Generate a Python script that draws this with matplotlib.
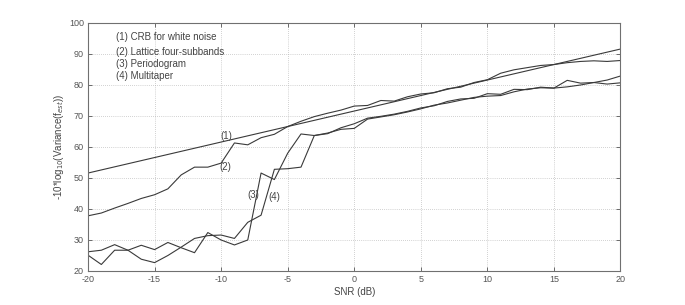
import matplotlib
matplotlib.use("Agg")
import matplotlib.pyplot as plt

plt.rcParams['font.family'] = ['Liberation Sans', 'DejaVu Sans']
plt.rcParams['axes.unicode_minus'] = False

snr = list(range(-20, 21))

crb = [51.6, 52.6, 53.6, 54.6, 55.6, 56.6, 57.6, 58.6, 59.6, 60.6,
       61.6, 62.6, 63.6, 64.6, 65.6, 66.6, 67.6, 68.6, 69.6, 70.6,
       71.6, 72.6, 73.6, 74.6, 75.6, 76.6, 77.6, 78.6, 79.6, 80.6,
       81.6, 82.6, 83.6, 84.6, 85.6, 86.6, 87.6, 88.6, 89.6, 90.6, 91.6]

lattice = [37.8, 38.7, 40.3, 41.8, 43.4, 44.6, 46.5, 51.0, 53.5, 53.5,
           54.8, 61.3, 60.7, 63.0, 64.1, 66.6, 68.3, 69.8, 70.9, 71.9,
           73.2, 73.4, 75.0, 74.8, 76.2, 77.1, 77.5, 78.8, 79.3, 80.8,
           81.7, 83.8, 84.9, 85.6, 86.3, 86.6, 87.2, 87.6, 87.8, 87.6, 87.9]

periodogram = [26.2, 26.7, 28.5, 26.7, 28.3, 26.9, 29.2, 27.5, 25.9, 32.4,
               30.0, 28.4, 30.0, 51.6, 49.5, 58.0, 64.2, 63.7, 64.3, 66.2,
               67.5, 69.3, 69.9, 70.6, 71.5, 72.6, 73.3, 74.7, 75.5, 75.7,
               77.2, 77.0, 78.6, 78.5, 79.3, 79.0, 81.5, 80.6, 80.8, 80.3, 80.7]

multitaper = [25.1, 22.1, 26.7, 26.7, 23.8, 22.7, 25.0, 27.7, 30.5, 31.4,
              31.6, 30.5, 35.7, 38.0, 52.8, 53.0, 53.5, 63.7, 64.5, 65.7,
              66.0, 69.0, 69.7, 70.4, 71.3, 72.3, 73.5, 74.2, 75.1, 76.0,
              76.4, 76.6, 77.8, 78.7, 79.1, 79.0, 79.4, 80.0, 80.8, 81.6, 82.9]

legend_lines = ["(1) CRB for white noise", "(2) Lattice four-subbands",
                "(3) Periodogram", "(4) Multitaper"]
curve_labels = ["(1)", "(2)", "(3)", "(4)"]
label_pos = [(-9.6, 63.6), (-9.7, 53.4), (-7.6, 44.6), (-6.0, 43.9)]

xticks = [-20, -15, -10, -5, 0, 5, 10, 15, 20]
yticks = [20, 30, 40, 50, 60, 70, 80, 90, 100]

fig = plt.figure(figsize=(6.85, 3.05), dpi=100)
ax = fig.add_axes([0.1285, 0.1115, 0.7773, 0.8131])

lc = '#3a3a3a'
for y in (crb, lattice, periodogram, multitaper):
    ax.plot(snr, y, color=lc, lw=0.8)

ax.set_xlim(-20, 20)
ax.set_ylim(20, 100)
ax.set_xticks(xticks)
ax.set_yticks(yticks)
ax.grid(True, linestyle=(0, (1, 2)), color='#a8a8a8', lw=0.5)
ax.tick_params(direction='in', length=3, width=0.6, labelsize=6.5,
               colors='#555555', pad=3, top=True, right=True)
for s in ax.spines.values():
    s.set_color('#707070')
    s.set_linewidth(0.8)

ax.set_xlabel('SNR (dB)', fontsize=7, color='#444444', labelpad=2)
ax.set_ylabel(r'-10*log$_{10}$(Variance(f$_{est}$))', fontsize=7,
              color='#444444', labelpad=2)

legend_y = [95.5, 90.6, 86.8, 83.0]
for t, yy in zip(legend_lines, legend_y):
    ax.text(-17.9, yy, t, fontsize=7, color='#444444', va='center', ha='left')

for t, (xx, yy) in zip(curve_labels, label_pos):
    ax.text(xx, yy, t, fontsize=7, color='#444444', va='center', ha='center')

fig.savefig('out.png', dpi=100)
